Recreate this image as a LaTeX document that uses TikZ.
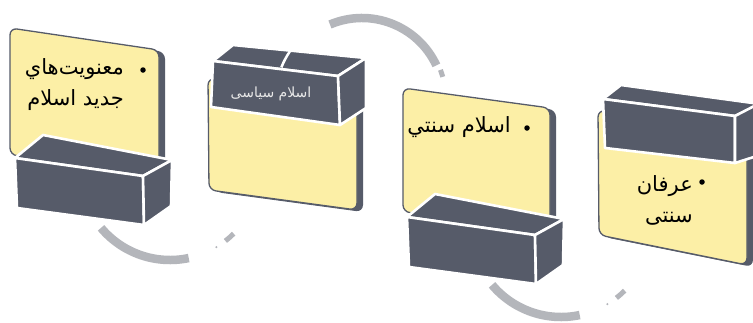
\documentclass[tikz,border=0pt]{standalone}
\usepackage{fontspec}
\newfontfamily\arabicfont[Script=Arabic]{DejaVu Sans}
\TeXXeTstate=1
\usepackage{xcolor}
\usetikzlibrary{positioning}
\definecolor{cardyellow}{RGB}{252,239,166}
\definecolor{blockgrey}{RGB}{86,91,105}
\definecolor{arcgrey}{RGB}{180,182,187}
\definecolor{labelwhite}{RGB}{232,232,232}

\begin{document}
\begin{tikzpicture}[
    x=1pt, y=-1pt,
    card/.style={fill=cardyellow, draw=blockgrey, line width=1.3pt, rounded corners=7pt},
    cardshade/.style={fill=blockgrey, rounded corners=7pt},
    boxface/.style={fill=blockgrey, draw=white, line width=2.6pt, line join=round},
    archalo/.style={draw=white, line width=12pt},
    arcband/.style={draw=arcgrey, line width=8.5pt},
    arcdash/.style={draw=arcgrey, line width=5pt},
    itemtext/.style={font=\arabicfont\fontsize{21}{31}\selectfont, inner sep=0pt, align=right},
    itembullet/.style={fill=black, circle, inner sep=0pt, minimum size=5.5pt}
]
\useasboundingbox[fill=white] (0,0) rectangle (753,322);

\coordinate (topc) at (362,100);
\coordinate (lowc1) at (170,170);
\coordinate (lowc2) at (561,227);

% lower arcs
\draw[archalo] (lowc1) ++(140:90) arc[start angle=140, end angle=78, radius=90];
\draw[arcband] (lowc1) ++(140:90) arc[start angle=140, end angle=78, radius=90];
\draw[arcdash] (lowc1) ++(52:90) arc[start angle=52, end angle=45, radius=90];
\fill[arcgrey] (lowc1) ++(59:90) circle[radius=1.2];
\draw[archalo] (lowc2) ++(140:90) arc[start angle=140, end angle=78, radius=90];
\draw[arcband] (lowc2) ++(140:90) arc[start angle=140, end angle=78, radius=90];
\draw[arcdash] (lowc2) ++(52:90) arc[start angle=52, end angle=45, radius=90];
\fill[arcgrey] (lowc2) ++(59:90) circle[radius=1.2];

% first step
\fill[cardshade] (15,30) -- (165,52) -- (165,172) -- (15,157) -- cycle;
\filldraw[card] (10,28) -- (159,50) -- (159,170) -- (10,155) -- cycle;
\draw[boxface] (15,158) -- (43,135) -- (172,160) -- (143,176) -- cycle;
\draw[boxface] (15,158) -- (143,176) -- (144,225) -- (17,208) -- cycle;
\draw[boxface] (143,176) -- (172,160) -- (171,206) -- (144,225) -- cycle;
\node[itembullet] (bullet1) at (143,70) {};
\node[itemtext, anchor=north east] (text1) at (124,58)
    {\beginR معنويت‌هاي\endR\\\beginR جديد اسلام\endR};

% second step
\fill[cardshade] (214,80) -- (363,100) -- (363,212) -- (215,192) -- cycle;
\filldraw[card] (208,78) -- (357,98) -- (357,210) -- (209,190) -- cycle;
\draw[boxface] (213,61) -- (233,45) -- (366,58) -- (338,76) -- cycle;
\draw[boxface] (213,61) -- (338,76) -- (340,125) -- (211,107) -- cycle;
\draw[boxface] (338,76) -- (366,58) -- (366,108) -- (340,125) -- cycle;
\node[font=\arabicfont\fontsize{14}{14}\selectfont, text=labelwhite, inner sep=0pt]
    (text2) at (271,94) {\beginR اسلام سیاسی\endR};

% upper arc
\draw[white, line width=2.5pt] (topc) ++(-110:87) arc[start angle=-110, end angle=-158, radius=87];
\draw[archalo] (topc) ++(-113:82) arc[start angle=-113, end angle=-25, radius=82];
\draw[arcband] (topc) ++(-113:82) arc[start angle=-113, end angle=-25, radius=82];
\draw[arcdash] (topc) ++(-21:84) arc[start angle=-21, end angle=-16, radius=84];

% third step
\fill[cardshade] (408,90) -- (556,110) -- (556,227) -- (408,214) -- cycle;
\filldraw[card] (403,88) -- (550,108) -- (550,225) -- (403,212) -- cycle;
\draw[boxface] (407,217) -- (435,194) -- (564,219) -- (535,235) -- cycle;
\draw[boxface] (407,217) -- (535,235) -- (536,284) -- (409,267) -- cycle;
\draw[boxface] (535,235) -- (564,219) -- (563,265) -- (536,284) -- cycle;
\node[itembullet] (bullet3) at (527,128) {};
\node[itemtext, anchor=east] (text3) at (511,127) {\beginR اسلام سنتي\endR};

% fourth step
\fill[cardshade] (604,112) -- (753,132) -- (753,267) -- (604,237) -- cycle;
\filldraw[card] (598,110) -- (747,130) -- (747,265) -- (599,235) -- cycle;
\draw[boxface] (603,99) -- (621,85) -- (760,104) -- (735,116) -- cycle;
\draw[boxface] (603,99) -- (735,116) -- (735,163) -- (605,148) -- cycle;
\draw[boxface] (735,116) -- (760,103) -- (760,155) -- (735,163) -- cycle;
\node[itembullet] (bullet4) at (702,182) {};
\node[itemtext, anchor=north east] (text4) at (693,175)
    {\beginR عرفان\endR\\\beginR سنتی\endR};
\end{tikzpicture}
\end{document}
